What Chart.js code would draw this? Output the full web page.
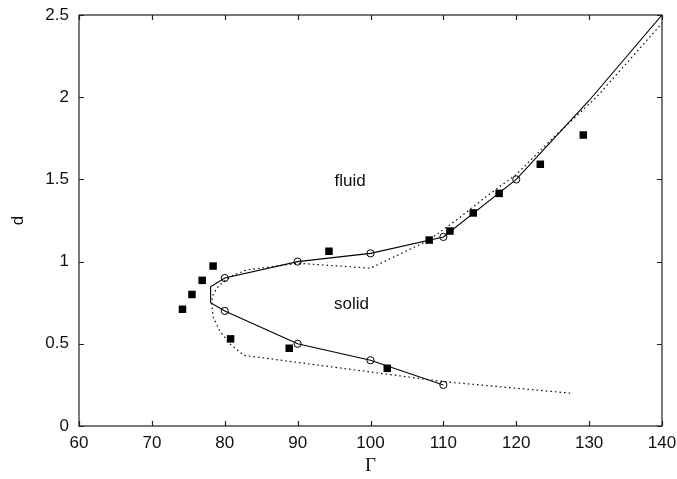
<!DOCTYPE html>
<html><head><meta charset="utf-8">
<script src="https://cdn.jsdelivr.net/npm/chart.js@4/dist/chart.umd.min.js"></script>
<style>html,body{margin:0;padding:0;background:#fff}#wrap{width:677px;height:479px}</style>
</head><body><div id="wrap"><canvas id="c" width="677" height="479"></canvas></div>
<script>
// ---- data ----
const xTicks = [60, 70, 80, 90, 100, 110, 120, 130, 140];
const yTicks = [0, 0.5, 1, 1.5, 2, 2.5];

const solidX = [110, 100, 90, 80, 78.06, 78.06, 80, 90, 100, 110, 120, 130, 140];
const solidY = [0.25, 0.40, 0.50, 0.70, 0.75, 0.847, 0.90, 1.00, 1.05, 1.15, 1.50, 1.98, 2.50];

const dottedX = [127.4, 110, 82.6, 80.7, 79.3, 78.4, 78.2, 78.3, 78.9, 79.8, 81.2, 83.0, 87.0, 90.0, 100, 108, 112, 116, 120, 125, 131, 140];
const dottedY = [0.20, 0.27, 0.43, 0.50, 0.58, 0.665, 0.74, 0.79, 0.838, 0.878, 0.918, 0.949, 0.972, 0.99, 0.96, 1.13, 1.26, 1.40, 1.53, 1.75, 2.00, 2.45];

const circleX = [80, 90, 100, 110, 120, 80, 90, 100, 110];
const circleY = [0.90, 1.00, 1.05, 1.15, 1.50, 0.70, 0.50, 0.40, 0.25];

const squareX = [74.2, 75.5, 76.9, 78.4, 80.8, 88.85, 94.3, 102.3, 108.05, 110.9, 114.1, 117.65, 123.3, 129.2];
const squareY = [0.71, 0.80, 0.886, 0.973, 0.53, 0.473, 1.063, 0.351, 1.131, 1.186, 1.296, 1.415, 1.592, 1.77];

const regionText = ['fluid', 'solid'];
const regionX = [97.2, 97.4];
const regionY = [1.46, 0.71];

const xTitle = 'Γ';
const yTitle = 'd';

// ---- build ----
const pts = (xs, ys) => xs.map((v, i) => ({x: v, y: ys[i]}));
const INK = '#111';
const tickFont = {family: '"Liberation Sans", Arial, sans-serif', size: 17};

const framePlugin = {
  id: 'frame',
  afterDatasetsDraw(chart) {
    const {ctx, chartArea: a, scales: {x, y}} = chart;
    ctx.save();
    ctx.strokeStyle = '#222';
    ctx.lineWidth = 1.2;
    ctx.beginPath();
    const L = 5;
    xTicks.forEach(v => {
      const p = Math.round(x.getPixelForValue(v)) + 0.5;
      ctx.moveTo(p, a.bottom); ctx.lineTo(p, a.bottom - L);
      ctx.moveTo(p, a.top); ctx.lineTo(p, a.top + L);
    });
    yTicks.forEach(v => {
      const p = Math.round(y.getPixelForValue(v)) + 0.5;
      ctx.moveTo(a.left, p); ctx.lineTo(a.left + L, p);
      ctx.moveTo(a.right, p); ctx.lineTo(a.right - L, p);
    });
    ctx.stroke();
    ctx.strokeRect(a.left, a.top, a.right - a.left, a.bottom - a.top);
    ctx.fillStyle = INK;
    ctx.font = '17px "Liberation Sans", Arial, sans-serif';
    ctx.textAlign = 'center';
    ctx.textBaseline = 'alphabetic';
    regionText.forEach((t, i) => {
      ctx.fillText(t, x.getPixelForValue(regionX[i]), y.getPixelForValue(regionY[i]));
    });
    ctx.restore();
  }
};

new Chart(document.getElementById('c'), {
  type: 'scatter',
  data: {
    datasets: [
      {data: pts(squareX, squareY), showLine: false, pointStyle: 'rect', pointRadius: 5.3,
       pointBackgroundColor: '#000', pointBorderWidth: 0, pointHoverRadius: 5.3},
      {data: pts(circleX, circleY), showLine: false, pointStyle: 'circle', pointRadius: 3.6,
       pointBackgroundColor: 'rgba(0,0,0,0)', pointBorderColor: '#000', pointBorderWidth: 1, pointHoverRadius: 3.6},
      {data: pts(solidX, solidY), showLine: true, borderColor: '#000', borderWidth: 1.1,
       pointRadius: 0, fill: false, tension: 0},
      {data: pts(dottedX, dottedY), showLine: true, borderColor: '#111', borderWidth: 1.2,
       borderDash: [1.6, 3.0], pointRadius: 0, fill: false, tension: 0}
    ]
  },
  options: {
    responsive: false,
    animation: false,
    devicePixelRatio: 1,
    layout: {padding: {left: 0, right: 15, top: 15, bottom: 0}},
    plugins: {legend: {display: false}, tooltip: {enabled: false}},
    events: [],
    scales: {
      x: {
        type: 'linear', position: 'bottom', min: 60, max: 140,
        afterBuildTicks: s => { s.ticks = xTicks.map(v => ({value: v})); },
        afterFit: s => { s.height = 53; s.paddingLeft = 0; s.paddingRight = 0; },
        grid: {display: false, drawTicks: false},
        border: {display: false},
        ticks: {padding: 7, font: tickFont, color: INK, maxRotation: 0, autoSkip: false,
                callback: v => String(v)},
        title: {display: true, text: xTitle, color: INK,
                font: {family: '"Liberation Serif", "Times New Roman", serif', size: 19},
                padding: {top: 0, bottom: 2}}
      },
      y: {
        type: 'linear', position: 'left', min: 0, max: 2.5,
        afterBuildTicks: s => { s.ticks = yTicks.map(v => ({value: v})); },
        afterFit: s => { s.width = 79; s.paddingTop = 0; s.paddingBottom = 0; },
        grid: {display: false, drawTicks: false},
        border: {display: false},
        ticks: {padding: 10, font: tickFont, color: INK, autoSkip: false,
                callback: v => String(v)},
        title: {display: true, text: yTitle, color: INK,
                font: {family: '"Liberation Sans", Arial, sans-serif', size: 17},
                padding: {top: 8, bottom: 0}}
      }
    }
  },
  plugins: [framePlugin]
});
</script></body></html>
